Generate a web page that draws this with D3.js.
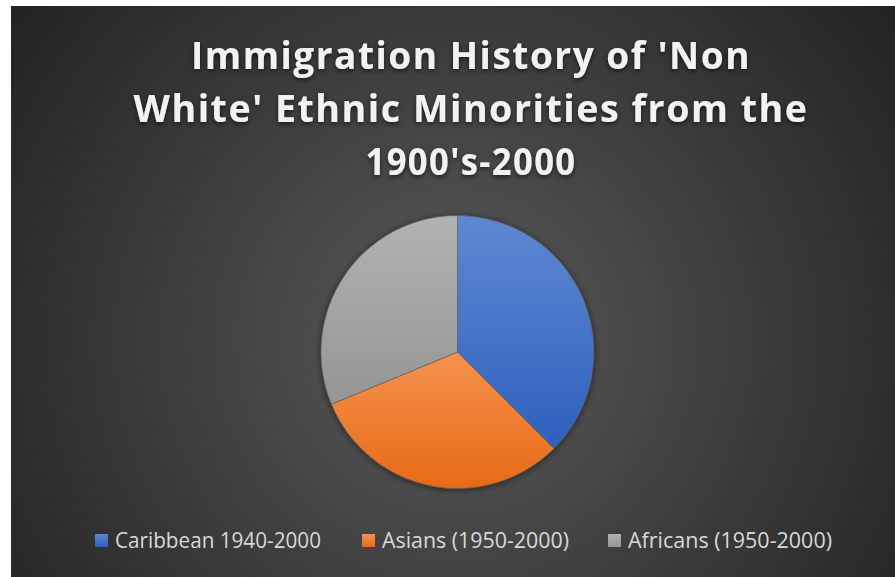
<!DOCTYPE html>
<html>
<head>
<meta charset="utf-8">
<script src="https://cdn.jsdelivr.net/npm/d3@7"></script>
<style>
  html, body { margin: 0; padding: 0; background: #ffffff; }
  svg { display: block; }
</style>
</head>
<body>
<svg id="chart" width="895" height="577"></svg>
<script>
// Share of immigration by group (relative values)
const categories = ["Caribbean 1940-2000", "Asians (1950-2000)", "Africans (1950-2000)"];
const values = [6, 5, 5];
const titleLines = ["Immigration History of 'Non", "White' Ethnic Minorities from the", "1900's-2000"];

// Fill gradients for each slice: [top, bottom]
const sliceColors = [["#5f88d2", "#2d60bd"], ["#f5924f", "#e76a16"], ["#b2b2b2", "#959595"]];

const W = 895, H = 577;
const svg = d3.select("#chart");
const defs = svg.append("defs");

// chart area background
const bg = defs.append("radialGradient").attr("id", "bg")
  .attr("gradientUnits", "userSpaceOnUse")
  .attr("cx", 455).attr("cy", 340).attr("r", 560);
bg.append("stop").attr("offset", 0).attr("stop-color", "#5a5a5a");
bg.append("stop").attr("offset", 0.35).attr("stop-color", "#464646");
bg.append("stop").attr("offset", 1).attr("stop-color", "#222222");

sliceColors.forEach((c, i) => {
  const g = defs.append("linearGradient").attr("id", "slice" + i)
    .attr("x1", 0).attr("y1", 0).attr("x2", 0).attr("y2", 1);
  g.append("stop").attr("offset", 0).attr("stop-color", c[0]);
  g.append("stop").attr("offset", 1).attr("stop-color", c[1]);
});

const shadow = defs.append("filter").attr("id", "pieShadow")
  .attr("x", "-20%").attr("y", "-20%").attr("width", "140%").attr("height", "140%");
shadow.append("feDropShadow").attr("dx", 0).attr("dy", 1).attr("stdDeviation", 3.5)
  .attr("flood-color", "#000").attr("flood-opacity", 0.55);

const tshadow = defs.append("filter").attr("id", "textShadow")
  .attr("x", "-10%").attr("y", "-30%").attr("width", "120%").attr("height", "160%");
tshadow.append("feDropShadow").attr("dx", 0).attr("dy", 2).attr("stdDeviation", 2.5)
  .attr("flood-color", "#000").attr("flood-opacity", 0.6);

svg.append("rect").attr("x", 11).attr("y", 6).attr("width", W - 11).attr("height", H - 6)
  .attr("fill", "url(#bg)");

// Title
const titleWidths = [560, 675, 211];
const title = svg.append("g").attr("filter", "url(#textShadow)");
titleLines.forEach((t, i) => {
  title.append("text")
    .attr("x", 471).attr("y", 69 + i * 53)
    .attr("text-anchor", "middle")
    .attr("font-family", "'Open Sans', sans-serif")
    .attr("font-weight", 700)
    .attr("font-size", 38)
    .attr("letter-spacing", 1.5)
    .attr("fill", "#f2f2f2")
    .attr("textLength", titleWidths[i])
    .attr("lengthAdjust", "spacingAndGlyphs")
    .text(t);
});

// Pie
const cx = 457.5, cy = 352, R = 136.5;
const pie = d3.pie().sort(null).value(d => d)(values);
const arc = d3.arc().innerRadius(0).outerRadius(R);
const pg = svg.append("g").attr("transform", `translate(${cx},${cy})`);
pg.append("g").attr("filter", "url(#pieShadow)")
  .selectAll("path").data(pie).join("path")
  .attr("d", arc)
  .attr("fill", (d, i) => `url(#slice${i})`)
  .attr("stroke", "#5a5a5a").attr("stroke-width", 0.6);

// Legend
const legendWidths = [206, 187, 204];
const legendX = [95, 362, 608];
const lg = svg.append("g");
categories.forEach((c, i) => {
  const g = lg.append("g").attr("transform", `translate(${legendX[i]},0)`);
  g.append("rect").attr("x", 0).attr("y", 534).attr("width", 13).attr("height", 13)
    .attr("fill", `url(#slice${i})`);
  g.append("text").attr("x", 20).attr("y", 548)
    .attr("font-family", "'Open Sans', sans-serif")
    .attr("font-size", 21)
    .attr("fill", "#d9d9d9")
    .attr("textLength", legendWidths[i])
    .attr("lengthAdjust", "spacingAndGlyphs")
    .text(c);
});
</script>
</body>
</html>
